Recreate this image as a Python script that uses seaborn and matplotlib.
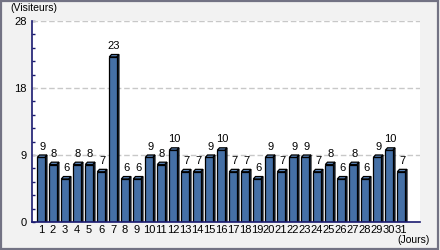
import matplotlib
matplotlib.use("Agg")
import matplotlib.pyplot as plt
import seaborn as sns
import pandas as pd
import numpy as np
from matplotlib.patches import Polygon, Rectangle

days = [str(d) for d in range(1, 32)]
visits = [9, 8, 6, 8, 8, 7, 23, 6, 6, 9, 8, 10, 7, 7, 9, 10, 7, 7, 6, 9,
          7, 9, 9, 7, 8, 6, 8, 6, 9, 10, 7]
y_max = 28
y_tick_labels = ["0", "9", "18", "28"]
y_label = "(Visiteurs)"
x_label = "(Jours)"

sns.set_theme(style="white")
plt.rcParams['font.family'] = ['Liberation Sans', 'DejaVu Sans']

W, H = 440, 250
fig = plt.figure(figsize=(W / 100, H / 100), dpi=100)
fig.patch.set_facecolor('#f2f2f2')
fig.patches.append(Rectangle((0.5 / W, 1.5 / H), 437 / W, 247.5 / H, transform=fig.transFigure,
                             fill=False, edgecolor='#737384', linewidth=1.6, zorder=0))

ax_l, ax_r, ax_b, ax_t = 32, 420, 222, 21
ax = fig.add_axes([ax_l / W, (H - ax_b) / H, (ax_r - ax_l) / W, (ax_b - ax_t) / H])
ax.set_facecolor('white')

df = pd.DataFrame({"day": days, "visits": visits})
face = '#4570a6'
sns.barplot(data=df, x="day", y="visits", ax=ax, color=face, saturation=1,
            width=0.62, edgecolor='black', linewidth=0.9, zorder=3)

ax.set_ylim(0, y_max)
ax.set_xlim(-0.75, len(days) - 1 + 1.58)

# grid at 3 equal divisions
ticks = [y_max * k / 3 for k in range(4)]
ax.set_yticks(ticks)
ax.set_yticklabels(y_tick_labels)
ax.set_yticks([y_max * k / 15 for k in range(16)], minor=True)
for t in ticks[1:]:
    ax.axhline(t, color='#c8c8c8', linewidth=1, linestyle=(0, (4, 2)), zorder=1)

ax.tick_params(axis='y', which='both', direction='in', length=2.5, width=1,
               color='#1a1a70', left=True, labelsize=8, pad=4, labelcolor='black')
ax.tick_params(axis='x', length=0, labelsize=8, pad=2, labelcolor='black')
ax.set_xlabel("")
ax.set_ylabel("")
for s in ['top', 'right']:
    ax.spines[s].set_visible(False)
for s in ['left', 'bottom']:
    ax.spines[s].set_color('#1a1a70')
    ax.spines[s].set_linewidth(1.2)
ax.spines['bottom'].set_zorder(6)

# 3D effect
xr = ax.get_xlim()[1] - ax.get_xlim()[0]
dxp, dyp = 2.2, 2.4
dx = dxp * xr / (ax_r - ax_l)
dy = dyp * y_max / (ax_b - ax_t)
for p, v in zip(ax.patches, visits):
    x0 = p.get_x()
    w = p.get_width()
    h = p.get_height()
    side = Polygon([[x0 + w, 0], [x0 + w + dx, dy * 0], [x0 + w + dx, h + dy], [x0 + w, h]],
                   closed=True, facecolor='#2c4d7e', edgecolor='black', linewidth=0.9, zorder=2.9)
    top = Polygon([[x0, h], [x0 + dx, h + dy], [x0 + w + dx, h + dy], [x0 + w, h]],
                  closed=True, facecolor='#5a84b8', edgecolor='black', linewidth=0.9, zorder=3.1)
    ax.add_patch(side)
    ax.add_patch(top)
    ax.annotate(str(v), (x0 + w / 2 + dx / 2, h + dy), xytext=(0, 2.5), textcoords='offset points',
                ha='center', va='bottom', fontsize=8, color='black', zorder=5)

fig.text(10 / W, 1 - 8 / H, y_label, fontsize=7.5, ha='left', va='center', color='black')
fig.text(430 / W, 1 - 240 / H, x_label, fontsize=7.5, ha='right', va='center', color='black')

fig.savefig("out.png", dpi=100, facecolor=fig.get_facecolor())
